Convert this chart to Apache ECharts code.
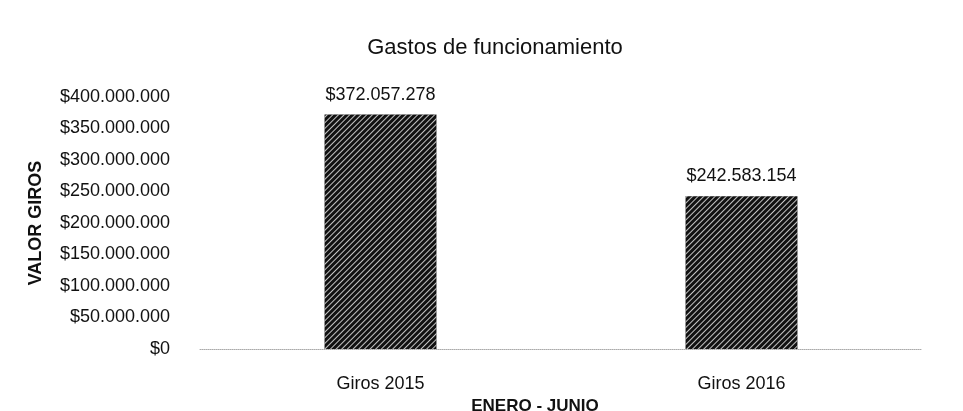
<!DOCTYPE html>
<html>
<head>
<meta charset="utf-8">
<script src="https://cdn.jsdelivr.net/npm/echarts@6/dist/echarts.min.js"></script>
<style>
html,body{margin:0;padding:0;background:#fff;}
#gastosChart{width:963px;height:411px;}
</style>
</head>
<body>
<div id="gastosChart"></div>
<script>
var categorias = ['Giros 2015', 'Giros 2016'];
var valoresGiros = [372057278, 242583154];
var ticksY = [0, 50000000, 100000000, 150000000, 200000000, 250000000, 300000000, 350000000, 400000000];

function pesos(v){
	return '$' + String(Math.round(v)).replace(/\B(?=(\d{3})+(?!\d))/g, '.');
}

(function(){
	/***
	 * Gastos de funcionamiento
	 */
	var gastosChart = echarts.init(document.getElementById('gastosChart'));
	var gastos_option = {
		backgroundColor: '#fff',
		aria: { enabled: true, decal: { show: true } },
		title: {
			text: 'Gastos de funcionamiento',
			left: 490, top: 32, textAlign: 'center',
			textStyle: { fontFamily: 'Liberation Sans', fontSize: 22, fontWeight: 'normal', color: '#111' }
		},
		grid: { left: 200, right: 41, top: 97, bottom: 62, outerBoundsMode: 'none', containLabel: false },
		xAxis: {
			type: 'category',
			data: categorias,
			name: 'ENERO - JUNIO',
			nameLocation: 'middle',
			nameGap: 45,
			nameTextStyle: { fontFamily: 'Liberation Sans', fontSize: 17, fontWeight: 'bold', color: '#111', padding: [0, 52, 0, 0] },
			axisLine: { show: true, lineStyle: { color: '#aaa', type: 'dotted', width: 1 } },
			axisTick: { show: false },
			axisLabel: { fontFamily: 'Liberation Sans', fontSize: 18, color: '#111', margin: 26 }
		},
		yAxis: {
			type: 'value',
			min: ticksY[0],
			max: ticksY[ticksY.length - 1],
			interval: ticksY[1] - ticksY[0],
			name: 'VALOR GIROS',
			nameLocation: 'middle',
			nameGap: 155,
			nameTextStyle: { fontFamily: 'Liberation Sans', fontSize: 18, fontWeight: 'bold', color: '#111' },
			axisLine: { show: false },
			axisTick: { show: false },
			splitLine: { show: false },
			axisLabel: {
				fontFamily: 'Liberation Sans', fontSize: 18, color: '#111', margin: 30,
				formatter: function(v){ return pesos(v); }
			}
		},
		series: [
			{
				type: 'bar',
				data: valoresGiros,
				barWidth: '31%',
				itemStyle: {
					color: '#111',
					decal: {
						symbol: 'rect',
						dashArrayX: [1, 0],
						dashArrayY: [1, 2.3],
						rotation: -Math.PI / 4,
						color: 'rgba(255,255,255,0.75)'
					}
				},
				label: {
					show: true,
					position: 'top',
					distance: 11,
					fontFamily: 'Liberation Sans',
					fontSize: 18,
					color: '#111',
					formatter: function(p){ return pesos(p.value); }
				}
			}
		]
	};
	gastosChart.setOption(gastos_option);
})();
</script>
</body>
</html>
